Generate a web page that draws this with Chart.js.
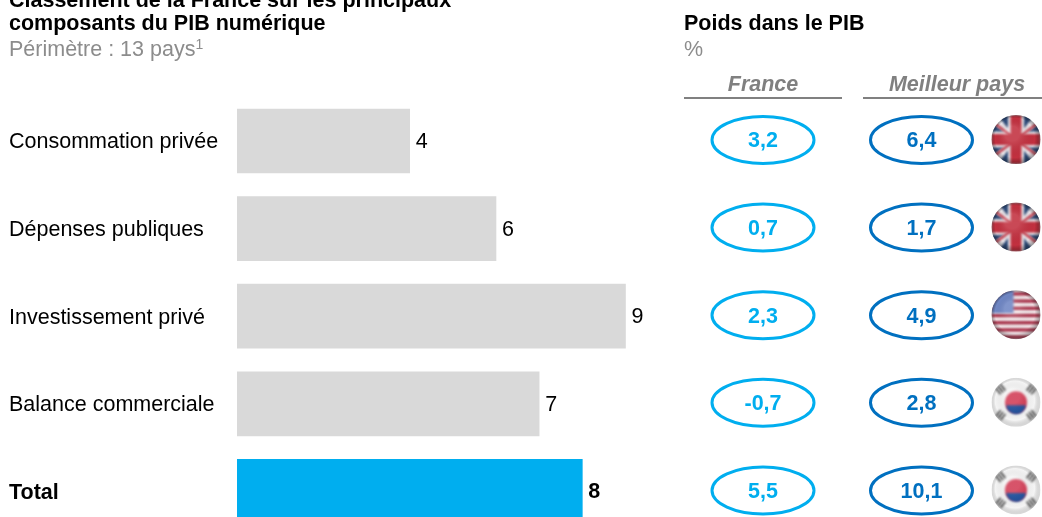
<!DOCTYPE html>
<html><head><meta charset="utf-8">
<script src="https://cdn.jsdelivr.net/npm/chart.js@4/dist/chart.umd.min.js"></script>
<style>html,body{margin:0;padding:0;background:#fff;overflow:hidden;width:1042px;height:517px}canvas{display:block}</style>
</head><body><canvas id="c" width="1042" height="560"></canvas>
<script>
const categories=["Consommation privée","Dépenses publiques","Investissement privé","Balance commerciale","Total"];
const ranks=[4,6,9,7,8];
const barColors=["#D9D9D9","#D9D9D9","#D9D9D9","#D9D9D9","#00AEEF"];
const france=["3,2","0,7","2,3","-0,7","5,5"];
const best=["6,4","1,7","4,9","2,8","10,1"];
const flags=["uk","uk","us","kr","kr"];
const FONT='"Liberation Sans",Arial,sans-serif';
const SIZE=21.5;
function ellipse(ctx,x,y,color,label){
  ctx.beginPath();ctx.ellipse(x,y,51,23.5,0,0,Math.PI*2);ctx.lineWidth=3;ctx.strokeStyle=color;ctx.stroke();
  ctx.fillStyle=color;ctx.font='bold '+SIZE+'px '+FONT;ctx.textAlign='center';ctx.textBaseline='middle';ctx.fillText(label,x,y+1.5);
}
function flag(ctx,cx,cy,kind){
  const r=24.5;ctx.save();ctx.beginPath();ctx.arc(cx,cy,r,0,Math.PI*2);ctx.clip();
  ctx.filter='blur(1.1px)';
  if(kind==='uk'){
    ctx.fillStyle='#e9e6ea';ctx.fillRect(cx-r,cy-r,2*r,2*r);
    ctx.fillStyle='#2d4a78';
    [[-1,-1],[1,-1],[-1,1],[1,1]].forEach(([a,b])=>{
      ctx.beginPath();ctx.moveTo(cx+a*8,cy+b*11);ctx.lineTo(cx+a*8,cy+b*25);ctx.lineTo(cx+a*19,cy+b*25);ctx.closePath();ctx.fill();
      ctx.beginPath();ctx.moveTo(cx+a*12,cy+b*8);ctx.lineTo(cx+a*25,cy+b*8);ctx.lineTo(cx+a*25,cy+b*17);ctx.closePath();ctx.fill();
    });
    ctx.strokeStyle='#c9404f';ctx.lineWidth=2.5;
    ctx.beginPath();ctx.moveTo(cx-r,cy-r+6);ctx.lineTo(cx+r,cy+r-6);ctx.moveTo(cx+r,cy-r+6);ctx.lineTo(cx-r,cy+r-6);ctx.stroke();
    ctx.fillStyle='#c2303f';ctx.fillRect(cx-5.5,cy-r,11,2*r);ctx.fillRect(cx-r,cy-5.5,2*r,11);
  }else if(kind==='us'){
    ctx.fillStyle='#f6eef0';ctx.fillRect(cx-r,cy-r,2*r,2*r);
    ctx.fillStyle='#a92f48';
    for(let i=0;i<7;i++)ctx.fillRect(cx-r,cy-r+2+i*7.2,2*r,3.4);
    ctx.fillStyle='#6f86c4';ctx.fillRect(cx-r,cy-r,22,23);
  }else{
    ctx.fillStyle='#f4f4f4';ctx.fillRect(cx-r,cy-r,2*r,2*r);
    ctx.fillStyle='#d23c55';ctx.beginPath();ctx.arc(cx,cy,11,0,Math.PI*2);ctx.fill();
    ctx.fillStyle='#1f4f9c';ctx.beginPath();ctx.arc(cx,cy+2,10,0.1,Math.PI-0.1);ctx.fill();
    ctx.fillStyle='#4a4a4a';
    [[-1,-1],[1,-1],[-1,1],[1,1]].forEach(([a,b])=>{
      ctx.save();ctx.translate(cx+a*15.5,cy+b*13);ctx.rotate(a*b*0.9);
      for(let k=-1;k<=1;k++)ctx.fillRect(-4,k*3-0.9,8,1.8);
      ctx.restore();
    });
  }
  ctx.filter='none';
  const g=ctx.createRadialGradient(cx-4,cy-6,r*0.3,cx,cy,r);
  g.addColorStop(0,'rgba(255,255,255,0.12)');g.addColorStop(0.72,'rgba(0,0,0,0)');
  g.addColorStop(1,kind==='kr'?'rgba(150,150,150,0.3)':'rgba(0,0,0,0.35)');
  ctx.fillStyle=g;ctx.fillRect(cx-r,cy-r,2*r,2*r);
  ctx.restore();
}
const deco={id:'deco',afterDatasetsDraw(chart){
  const ctx=chart.ctx;ctx.save();
  ctx.textBaseline='alphabetic';ctx.textAlign='left';
  ctx.fillStyle='#000';ctx.font='bold '+SIZE+'px '+FONT;
  ctx.fillText('Classement de la France sur les principaux',9,7);
  ctx.fillText('composants du PIB numérique',9,30);
  ctx.fillText('Poids dans le PIB',684,30);
  ctx.fillStyle='#8C8C8C';ctx.font=SIZE+'px '+FONT;
  ctx.fillText('Périmètre : 13 pays',9,56);
  const w=ctx.measureText('Périmètre : 13 pays').width;
  ctx.font='14px '+FONT;ctx.fillText('1',9+w,49);
  ctx.font=SIZE+'px '+FONT;ctx.fillText('%',684,56);
  ctx.fillStyle='#808080';ctx.font='italic bold '+SIZE+'px '+FONT;ctx.textAlign='center';
  ctx.fillText('France',763,91);ctx.fillText('Meilleur pays',957,91);
  ctx.strokeStyle='#808080';ctx.lineWidth=2;
  ctx.beginPath();ctx.moveTo(684,98);ctx.lineTo(842,98);ctx.moveTo(863,98);ctx.lineTo(1042,98);ctx.stroke();
  const bars=chart.getDatasetMeta(0).data;
  bars.forEach((b,i)=>{
    ctx.fillStyle='#000';ctx.textAlign='left';ctx.textBaseline='middle';
    ctx.font=(i===4?'bold ':'')+SIZE+'px '+FONT;
    ctx.fillText(String(ranks[i]),b.x+6,b.y+1);
    const y=b.y-1;
    ellipse(ctx,763,y,'#00AEEF',france[i]);
    ellipse(ctx,921.5,y,'#0070C0',best[i]);
    flag(ctx,1016,y-0.5,flags[i]);
  });
  ctx.restore();
}};
new Chart(document.getElementById('c'),{
  type:'bar',
  data:{labels:categories,datasets:[{data:ranks,backgroundColor:barColors,borderWidth:0,barThickness:64}]},
  options:{
    indexAxis:'y',responsive:false,animation:false,
    layout:{padding:{left:9,right:0,top:97.2,bottom:24.8}},
    plugins:{legend:{display:false},tooltip:{enabled:false}},
    scales:{
      x:{display:false,min:0,max:18.65},
      y:{
        afterFit(s){s.width=228;},
        grid:{display:false},border:{display:false},
        ticks:{crossAlign:'far',padding:0,labelOffset:1.5,color:'#000',autoSkip:false,
          font:c=>({family:FONT,size:SIZE,weight:c.index===4?'bold':'normal'})}
      }
    }
  },
  plugins:[deco]
});
</script></body></html>
